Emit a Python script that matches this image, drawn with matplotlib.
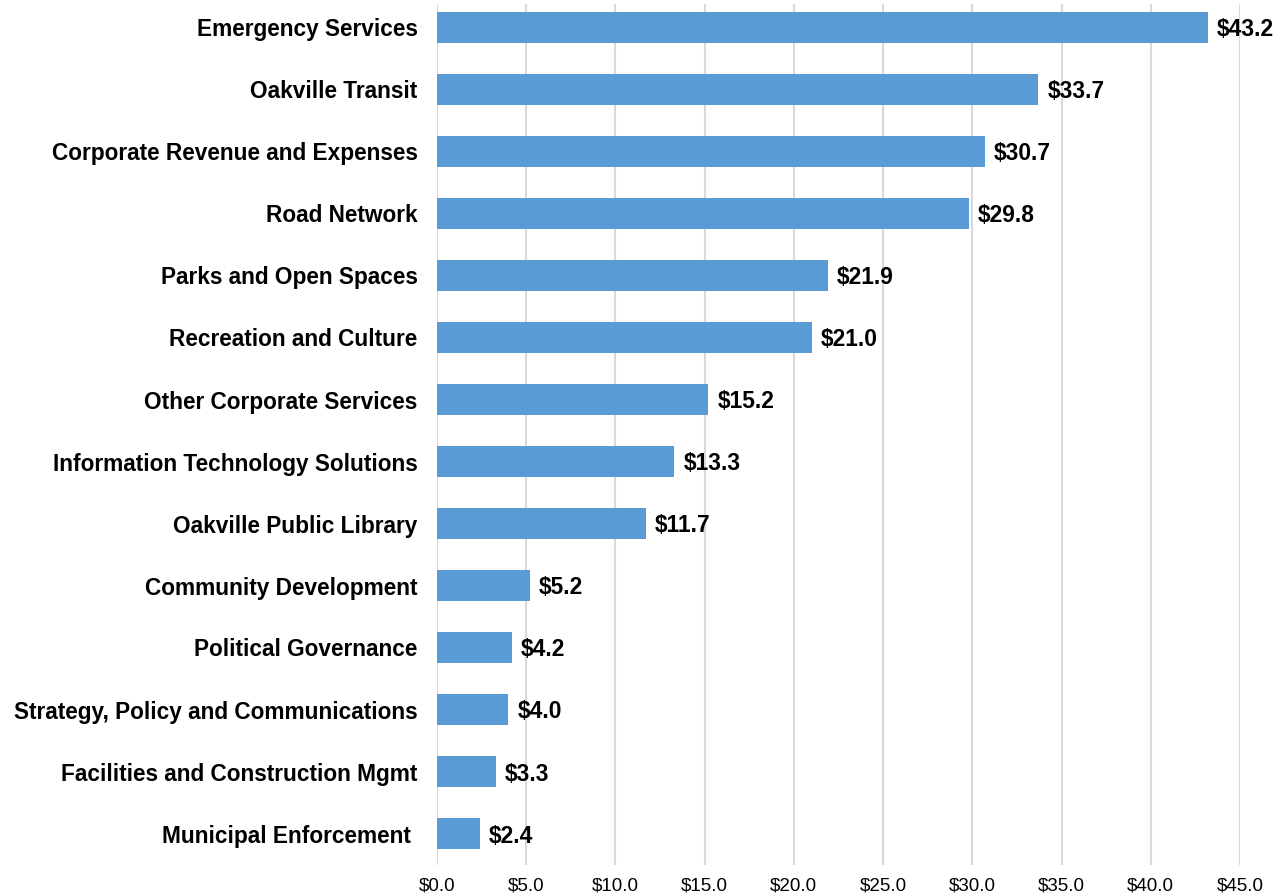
import matplotlib
matplotlib.use("Agg")
import matplotlib.pyplot as plt
from matplotlib.ticker import FuncFormatter, MultipleLocator

categories = [
    "Emergency Services",
    "Oakville Transit",
    "Corporate Revenue and Expenses",
    "Road Network",
    "Parks and Open Spaces",
    "Recreation and Culture",
    "Other Corporate Services",
    "Information Technology Solutions",
    "Oakville Public Library",
    "Community Development",
    "Political Governance",
    "Strategy, Policy and Communications",
    "Facilities and Construction Mgmt",
    "Municipal Enforcement ",
]
values = [43.2, 33.7, 30.7, 29.8, 21.9, 21.0, 15.2, 13.3, 11.7, 5.2, 4.2, 4.0, 3.3, 2.4]

plt.rcParams["font.family"] = ["Liberation Sans", "DejaVu Sans"]

W, H = 1280, 896
fig = plt.figure(figsize=(W / 100, H / 100), dpi=100)
left_px, right_px, top_px, bottom_px = 437, 1240, 4, 864.5
ax = fig.add_axes([left_px / W, 1 - bottom_px / H,
                   (right_px - left_px) / W, (bottom_px - top_px) / H])

ypos = list(range(len(categories)))
ax.barh(ypos, values, height=0.5, color="#5B9BD5", zorder=3)

for y, v in zip(ypos, values):
    ax.annotate(f"${v:.1f}", xy=(v, y), xytext=(6.5, 0), textcoords="offset points",
                ha="left", va="center_baseline", fontsize=16.4, fontweight="bold",
                color="#000000")

band = 62.0
ax.set_ylim(len(categories) - 0.5, -0.5 + 7.5 / band)
ax.set_xlim(0, 45)
ax.xaxis.set_major_locator(MultipleLocator(5))
ax.xaxis.set_major_formatter(FuncFormatter(lambda x, _: f"${x:.1f}"))
ax.set_yticks(ypos)
ax.set_yticklabels(categories, fontsize=16.3, fontweight="bold")

ax.tick_params(axis="y", length=0, pad=14)
ax.tick_params(axis="x", length=0, pad=9, labelsize=13.5, labelcolor="#000000")
ax.grid(axis="x", color="#D9D9D9", linewidth=1.5, zorder=0)
for s in ax.spines.values():
    s.set_visible(False)

fig.savefig("out.png", dpi=100, facecolor="white")
